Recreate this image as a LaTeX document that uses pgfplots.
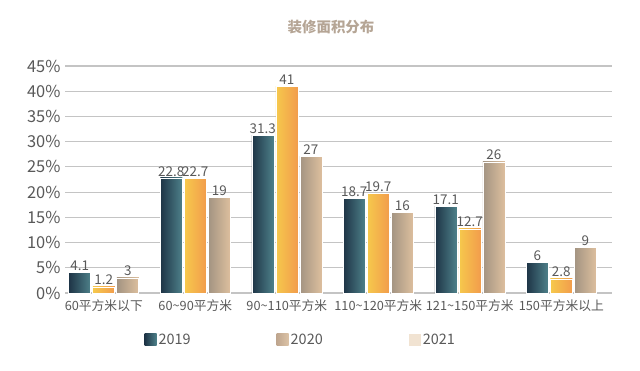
\documentclass[border=0pt]{standalone}
\usepackage{fontspec}
\setmainfont{Noto Sans CJK SC}
\usepackage{pgfplots}
\pgfplotsset{compat=1.18}
\definecolor{txt}{HTML}{595959}
\definecolor{ttl}{HTML}{B5A595}
\definecolor{gridc}{HTML}{C4C4C4}
\definecolor{aL}{HTML}{1E3446}
\definecolor{aR}{HTML}{4E818A}
\definecolor{bL}{HTML}{F6C94C}
\definecolor{bR}{HTML}{F29C4C}
\definecolor{cL}{HTML}{A39482}
\definecolor{cR}{HTML}{DDBF9E}
\definecolor{lbL}{HTML}{BFA68E}
\definecolor{lbR}{HTML}{DCC3A6}
\definecolor{lc}{HTML}{F1E3D2}
\pgfplotsset{
  sa/.style={draw=white, line width=0.6bp, left color=aL, right color=aR, bar shift=-24bp},
  sb/.style={draw=white, line width=0.6bp, left color=bL, right color=bR, bar shift=0bp},
  sc/.style={draw=white, line width=0.6bp, left color=cL, right color=cR, bar shift=24bp},
}
\begin{document}
\begin{tikzpicture}
\path[use as bounding box] (0,0) rectangle (640bp,371bp);
\node[font=\bfseries\fontsize{14.5}{16}\selectfont, text=ttl] at (331bp,344bp) {装修面积分布};
\begin{axis}[
  at={(65bp,78bp)}, anchor=south west,
  scale only axis, width=547bp, height=227bp,
  ybar, bar width=22bp,
  xmin=-0.424, xmax=5.554, ymin=0, ymax=45,
  xtick={0,1,2,3,4,5},
  xticklabels={60平方米以下, 60\textasciitilde 90平方米, 90\textasciitilde 110平方米, 110\textasciitilde 120平方米, 121\textasciitilde 150平方米, 150平方米以上},
  ytick={0,5,...,45},
  yticklabel={\pgfmathprintnumber{\tick}\%},
  /pgf/number format/assume math mode=true,
  axis line style={draw=none},
  major tick length=0pt,
  xmajorgrids=false, ymajorgrids=true,
  y grid style={draw=gridc, line width=1.1bp},
  yticklabel style={font=\fontsize{16.5}{18}\selectfont, text=txt, xshift=-1bp},
  xticklabel style={font=\fontsize{12.8}{15}\selectfont, text=txt, yshift=-3bp},
  nodes near coords,
  nodes near coords style={font=\fontsize{13.5}{16}\selectfont, text=txt, inner sep=1.5bp},
  legend columns=3,
  legend style={at={(0.431,-0.207)}, anchor=center, draw=none, fill=none,
    font=\fontsize{14.5}{16}\selectfont, text=txt,
    /tikz/every even column/.append style={column sep=84bp}},
  clip=false,
]
\addlegendimage{legend image code/.code={\path[draw=none, left color=aL, right color=aR] (0bp,-6bp) rectangle (12bp,6bp);}}
\addlegendentry{2019}
\addlegendimage{legend image code/.code={\path[draw=none, left color=lbL, right color=lbR] (0bp,-6bp) rectangle (12bp,6bp);}}
\addlegendentry{2020}
\addlegendimage{legend image code/.code={\path[draw=none, fill=lc] (0bp,-6bp) rectangle (12bp,6bp);}}
\addlegendentry{2021}
% 2019
\addplot[sa] coordinates {(0,4.1)};
\addplot[sa] coordinates {(1,22.8)};
\addplot[sa] coordinates {(2,31.3)};
\addplot[sa] coordinates {(3,18.7)};
\addplot[sa] coordinates {(4,17.1)};
\addplot[sa] coordinates {(5,6)};
% 2020
\addplot[sb] coordinates {(0,1.2)};
\addplot[sb] coordinates {(1,22.7)};
\addplot[sb] coordinates {(2,41)};
\addplot[sb] coordinates {(3,19.7)};
\addplot[sb] coordinates {(4,12.7)};
\addplot[sb] coordinates {(5,2.8)};
% 2021
\addplot[sc] coordinates {(0,3)};
\addplot[sc] coordinates {(1,19)};
\addplot[sc] coordinates {(2,27)};
\addplot[sc] coordinates {(3,16)};
\addplot[sc] coordinates {(4,26)};
\addplot[sc] coordinates {(5,9)};
\end{axis}
\end{tikzpicture}
\end{document}
